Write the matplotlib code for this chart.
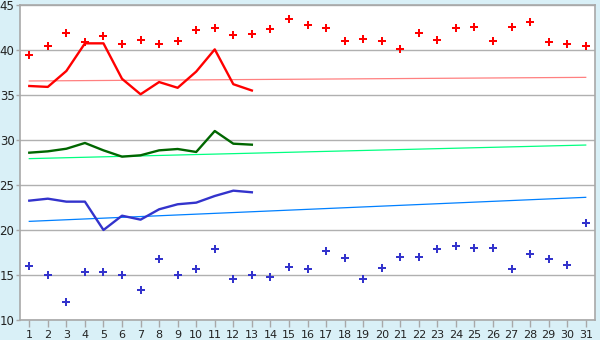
import numpy as np
import matplotlib
matplotlib.use('Agg')
import matplotlib.pyplot as plt

### Data ###
days = list(range(1, 32))
line_days = list(range(1, 14))

red_points = [39.4, 40.4, 41.85, 40.85, 41.55, 40.67, 41.07, 40.67, 40.96, 42.2,
              42.4, 41.67, 41.74, 42.3, 43.44, 42.78, 42.4, 40.96, 41.18, 40.96,
              40.07, 41.85, 41.07, 42.4, 42.52, 40.96, 42.52, 43.07, 40.85, 40.63, 40.4]
blue_points = [15.96, 14.97, 11.96, 15.3, 15.3, 14.97, 13.3, 16.74, 14.97, 15.63,
               17.86, 14.52, 14.97, 14.74, 15.86, 15.63, 17.63, 16.85, 14.52, 15.74,
               16.96, 16.96, 17.86, 18.19, 17.96, 17.96, 15.63, 17.3, 16.74, 16.08, 20.74]

red_line = [36.0, 35.9, 37.67, 40.74, 40.74, 36.8, 35.08, 36.44, 35.8, 37.6, 40.07, 36.2, 35.5]
green_line = [28.59, 28.74, 29.03, 29.67, 28.85, 28.15, 28.3, 28.85, 29.0, 28.67, 31.0, 29.59, 29.48]
blue_line = [23.26, 23.48, 23.15, 23.15, 20.0, 21.59, 21.15, 22.3, 22.86, 23.04, 23.78, 24.37, 24.19]

# trend lines: value at day 1 and day 31
red_trend = [36.56, 36.96]
green_trend = [27.93, 29.44]
blue_trend = [20.96, 23.63]

### Plot ###
bg = '#d9f0f7'
fig = plt.figure(figsize=(6, 3.4), dpi=100, facecolor=bg)
ax = fig.add_axes([20 / 600, 20 / 340, 575 / 600, 315 / 340])
ax.set_facecolor('white')

ax.set_xlim(0.5, 31.5)
ax.set_ylim(10, 45)
ax.set_yticks(range(10, 46, 5))
ax.set_xticks(days)

ax.grid(axis='y', color='#b0b0b0', lw=1)
ax.set_axisbelow(True)
for s in ax.spines.values():
    s.set_color('#a8a8a8')
    s.set_linewidth(1.2)

ax.tick_params(axis='x', length=5, width=1, color='#a8a8a8', pad=2, labelsize=8, labelcolor='#222222')
ax.tick_params(axis='y', length=3, width=1, color='#a8a8a8', pad=1, labelsize=8.5, labelcolor='#222222')

ends = [days[0], days[-1]]
ax.plot(ends, red_trend, color='#ff8080', lw=0.9)
ax.plot(ends, green_trend, color='#00ff80', lw=0.9)
ax.plot(ends, blue_trend, color='#0080ff', lw=0.9)

ax.plot(line_days, red_line, color='#ff0000', lw=1.7)
ax.plot(line_days, green_line, color='#006600', lw=1.7)
ax.plot(line_days, blue_line, color='#3333cc', lw=1.7)

ax.plot(days, red_points, ls='none', marker='P', ms=6, color='#ff0000', mew=0)
ax.plot(days, blue_points, ls='none', marker='P', ms=6, color='#3333cc', mew=0)

fig.savefig('out.png', dpi=100, facecolor=bg)
